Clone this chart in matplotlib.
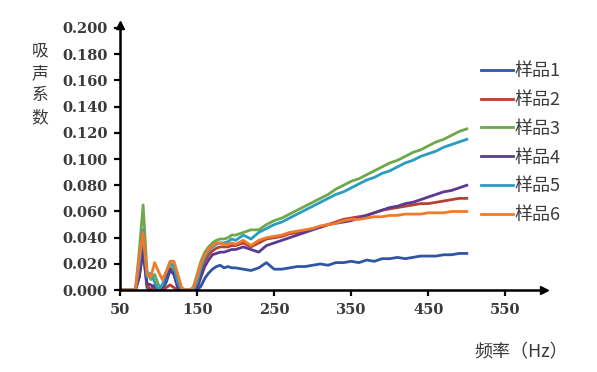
import matplotlib
matplotlib.use("Agg")
import matplotlib.pyplot as plt

# frequency grid (Hz)
freq = [50, 55, 60, 65, 70, 75, 80, 85, 90, 95, 100, 105, 110, 115, 120, 125,
        130, 135, 140, 145, 150, 155, 160, 165, 170, 175, 180, 185, 190, 195, 200,
        210, 220, 230, 240, 250, 260, 270, 280, 290, 300, 310, 320, 330, 340, 350,
        360, 370, 380, 390, 400, 410, 420, 430, 440, 450, 460, 470, 480, 490, 500]

s1 = [0, 0, 0, 0, 0, 0.012, 0.030, 0.002, 0.0, 0.004, 0.0, 0.0, 0.006, 0.015, 0.012, 0.002,
      0, 0, 0, 0, 0, 0.003, 0.009, 0.013, 0.016, 0.018, 0.019, 0.017, 0.018, 0.017, 0.017,
      0.016, 0.015, 0.017, 0.021, 0.016, 0.016, 0.017, 0.018, 0.018, 0.019, 0.020, 0.019, 0.021, 0.021, 0.022,
      0.021, 0.023, 0.022, 0.024, 0.024, 0.025, 0.024, 0.025, 0.026, 0.026, 0.026, 0.027, 0.027, 0.028, 0.028]
s2 = [0, 0, 0, 0, 0, 0.010, 0.038, 0.004, 0.0, 0.003, 0.001, 0.0, 0.002, 0.004, 0.002, 0.0,
      0, 0, 0, 0, 0.004, 0.014, 0.022, 0.027, 0.030, 0.032, 0.033, 0.033, 0.033, 0.034, 0.034,
      0.036, 0.033, 0.036, 0.039, 0.040, 0.041, 0.043, 0.044, 0.045, 0.047, 0.048, 0.050, 0.052, 0.054, 0.055,
      0.056, 0.057, 0.059, 0.061, 0.062, 0.063, 0.064, 0.065, 0.066, 0.066, 0.067, 0.068, 0.069, 0.070, 0.070]
s3 = [0, 0, 0, 0, 0, 0.030, 0.065, 0.015, 0.008, 0.012, 0.004, 0.002, 0.010, 0.018, 0.015, 0.004,
      0, 0, 0, 0.002, 0.012, 0.022, 0.029, 0.033, 0.036, 0.038, 0.039, 0.039, 0.040, 0.042, 0.042,
      0.044, 0.046, 0.046, 0.050, 0.053, 0.055, 0.058, 0.061, 0.064, 0.067, 0.070, 0.073, 0.077, 0.080, 0.083,
      0.085, 0.088, 0.091, 0.094, 0.097, 0.099, 0.102, 0.105, 0.107, 0.110, 0.113, 0.115, 0.118, 0.121, 0.123]
s4 = [0, 0, 0, 0, 0, 0.010, 0.030, 0.005, 0.004, 0.002, 0.0, 0.002, 0.010, 0.016, 0.012, 0.002,
      0, 0, 0, 0, 0.001, 0.010, 0.018, 0.023, 0.027, 0.028, 0.029, 0.029, 0.030, 0.031, 0.031,
      0.033, 0.031, 0.029, 0.034, 0.036, 0.038, 0.040, 0.042, 0.044, 0.046, 0.048, 0.050, 0.051, 0.052, 0.053,
      0.055, 0.057, 0.059, 0.061, 0.063, 0.064, 0.066, 0.067, 0.069, 0.071, 0.073, 0.075, 0.076, 0.078, 0.080]
s5 = [0, 0, 0, 0, 0, 0.020, 0.046, 0.010, 0.013, 0.006, 0.0, 0.004, 0.014, 0.021, 0.018, 0.006,
      0, 0, 0, 0, 0.006, 0.017, 0.025, 0.030, 0.033, 0.035, 0.036, 0.036, 0.037, 0.039, 0.038,
      0.042, 0.039, 0.044, 0.047, 0.050, 0.052, 0.055, 0.058, 0.061, 0.064, 0.067, 0.070, 0.073, 0.075, 0.078,
      0.081, 0.084, 0.086, 0.089, 0.091, 0.094, 0.097, 0.099, 0.102, 0.104, 0.106, 0.109, 0.111, 0.113, 0.115]
s6 = [0, 0, 0, 0, 0, 0.025, 0.044, 0.012, 0.010, 0.021, 0.014, 0.008, 0.014, 0.022, 0.022, 0.012,
      0.002, 0, 0, 0.002, 0.010, 0.020, 0.027, 0.031, 0.034, 0.036, 0.036, 0.035, 0.035, 0.036, 0.035,
      0.038, 0.034, 0.038, 0.040, 0.041, 0.042, 0.044, 0.045, 0.046, 0.047, 0.049, 0.050, 0.051, 0.053, 0.054,
      0.054, 0.055, 0.056, 0.056, 0.057, 0.057, 0.058, 0.058, 0.058, 0.059, 0.059, 0.059, 0.060, 0.060, 0.060]

series = [s1, s2, s3, s4, s5, s6]
labels = ["样品1", "样品2", "样品3", "样品4", "样品5", "样品6"]
colors = ["#2f55a4", "#b8402f", "#6fa84a", "#5b3a92", "#2a9cc0", "#ef7a2c"]

xticks = [50, 150, 250, 350, 450, 550]
yticks = [0.0, 0.02, 0.04, 0.06, 0.08, 0.10, 0.12, 0.14, 0.16, 0.18, 0.20]

cjk = ["Noto Sans CJK SC", "DejaVu Sans"]
txt = "#3a3a3a"

fig = plt.figure(figsize=(5.97, 3.72), dpi=100)
ax = fig.add_axes([0.201, 0.22, 0.71, 0.705])

for s, lab, c in zip(series, labels, colors):
    ax.plot(freq, s, color=c, lw=2.0, label=lab)

ax.set_xlim(50, 600)
ax.set_ylim(0, 0.2)
ax.set_xticks(xticks)
ax.set_yticks(yticks)
ax.set_yticklabels(["%.3f" % v for v in yticks])
for lab in ax.get_xticklabels() + ax.get_yticklabels():
    lab.set_family("DejaVu Serif")
    lab.set_fontweight("bold")
    lab.set_fontsize(10.5)
    lab.set_color(txt)

for sp in ["top", "right"]:
    ax.spines[sp].set_visible(False)
for sp in ["left", "bottom"]:
    ax.spines[sp].set_linewidth(1.8)
ax.tick_params(direction="out", length=4, width=1.6, pad=5)

# arrow heads on the axes
ax.plot(1, 0, ">", color="black", ms=6, transform=ax.transAxes, clip_on=False)
ax.plot(0, 1.01, "^", color="black", ms=6, transform=ax.transAxes, clip_on=False)

leg = ax.legend(loc="upper left", bbox_to_anchor=(0.835, 0.897), frameon=False,
                prop={"family": cjk, "size": 13}, handlelength=1.75,
                handletextpad=0.1, labelspacing=0.6, borderaxespad=0)
for t in leg.get_texts():
    t.set_color(txt)

fig.text(0.067, 0.773, "吸\n声\n系\n数", family=cjk, fontsize=12, color=txt,
         ha="center", va="center", linespacing=1.42)
fig.text(0.873, 0.052, "频率（Hz）", family=cjk, fontsize=13, color=txt,
         ha="center", va="center")

fig.savefig("out.png", dpi=100)
